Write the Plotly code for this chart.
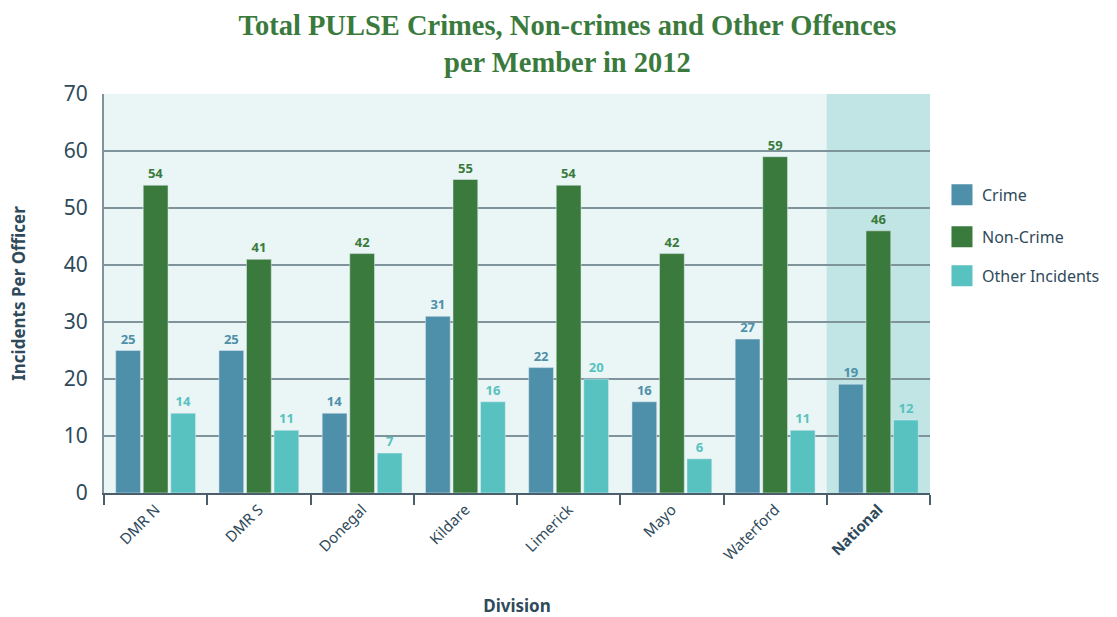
import plotly.graph_objects as go

divisions = ["DMR N", "DMR S", "Donegal", "Kildare", "Limerick", "Mayo", "Waterford", "National"]
tick_labels = ["DMR N", "DMR S", "Donegal", "Kildare", "Limerick", "Mayo", "Waterford", "<b>National</b>"]
crime = [25, 25, 14, 31, 22, 16, 27, 19.1]
non_crime = [54, 41, 42, 55, 54, 42, 59, 46]
other_incidents = [14, 11, 7, 16, 20, 6, 11, 12.8]
y_ticks = [0, 10, 20, 30, 40, 50, 60, 70]

series = [
    ("Crime", crime, "#4e8fa9", "legend"),
    ("Non-Crime", non_crime, "#3a7b3d", "legend2"),
    ("Other Incidents", other_incidents, "#57c2bf", "legend3"),
]

FONT = "Noto Sans"
DARK = "#2f4a5a"

fig = go.Figure()
for name, vals, color, lg in series:
    fig.add_trace(go.Bar(
        x=divisions, y=vals, name=name, marker_color=color,
        text=[str(int(v)) for v in vals], texttemplate="<b>%{text}</b>",
        textposition="outside", textfont=dict(color=color, size=13, family=FONT),
        cliponaxis=False, showlegend=False,
    ))
    fig.add_trace(go.Scatter(
        x=[None], y=[None], mode="markers", name=name, legend=lg,
        marker=dict(symbol="square", size=16, color=color, line=dict(color=color, width=5)),
        showlegend=True, hoverinfo="skip",
    ))

fig.add_shape(type="rect", xref="x", yref="paper", x0=6.5, x1=7.5, y0=0, y1=1,
              fillcolor="#c0e5e4", line_width=0, layer="below")

legend_common = dict(x=1.0145, xanchor="left", yanchor="middle",
                     font=dict(size=16, family=FONT, color=DARK), bgcolor="rgba(0,0,0,0)")
fig.update_layout(
    width=1117, height=617,
    margin=dict(l=104, r=185, t=94, b=124),
    paper_bgcolor="white", plot_bgcolor="#eaf5f5",
    barmode="group", bargap=0.2, bargroupgap=0.1,
    title=dict(
        text="Total PULSE Crimes, Non-crimes and Other Offences<br>per Member in 2012",
        x=0.508, xref="container", xanchor="center", y=0.943, yref="container", yanchor="middle",
        font=dict(family="Liberation Serif", size=28.5, color="#3a7b3d", weight="bold"),
    ),
    legend=dict(y=0.747, **legend_common),
    legend2=dict(y=0.642, **legend_common),
    legend3=dict(y=0.544, **legend_common),
)
fig.update_xaxes(
    type="category", tickvals=divisions, ticktext=tick_labels, tickangle=-45,
    tickson="boundaries", ticks="outside", ticklen=10, tickwidth=2, tickcolor="#4a5f6b",
    showline=True, linecolor="#4a5f6b", linewidth=2, showgrid=False, automargin=False,
    tickfont=dict(family=FONT, size=15, color=DARK),
    title=dict(text="<b>Division</b>", font=dict(family=FONT, size=17, color=DARK), standoff=43),
)
fig.update_yaxes(
    range=[0, 70], tickvals=y_ticks, showgrid=True, gridcolor="#7f939b", gridwidth=2,
    showline=True, linecolor="#7f939b", linewidth=2, zeroline=False, ticks="", automargin=False,
    ticklabelstandoff=10,
    tickfont=dict(family=FONT, size=21, color=DARK),
    title=dict(text="<b>Incidents Per Officer</b>", font=dict(family=FONT, size=17, color=DARK), standoff=34),
)

fig.write_html("out.html", config={"displayModeBar": False},
               post_script="document.body.style.margin='0';")
